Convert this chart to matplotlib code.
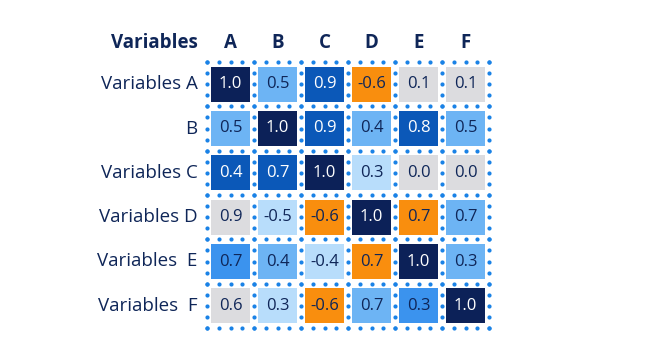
import numpy as np
import matplotlib.pyplot as plt
from matplotlib.colors import ListedColormap
from matplotlib.patches import Rectangle

# --- data ---
col_labels = ["A", "B", "C", "D", "E", "F"]
row_labels = ["Variables A", "B", "Variables C", "Variables D", "Variables  E", "Variables  F"]

values = np.array([
    [1.0, 0.5, 0.9, -0.6, 0.1, 0.1],
    [0.5, 1.0, 0.9, 0.4, 0.8, 0.5],
    [0.4, 0.7, 1.0, 0.3, 0.0, 0.0],
    [0.9, -0.5, -0.6, 1.0, 0.7, 0.7],
    [0.7, 0.4, -0.4, 0.7, 1.0, 0.3],
    [0.6, 0.3, -0.6, 0.7, 0.3, 1.0],
])

# colour class of each cell (0 grey, 1 pale blue, 2 light blue, 3 mid blue,
# 4 dark blue, 5 navy, 6 orange)
levels = np.array([
    [5, 2, 4, 6, 0, 0],
    [2, 5, 4, 2, 4, 2],
    [4, 4, 5, 1, 0, 0],
    [0, 1, 6, 5, 6, 2],
    [3, 2, 1, 6, 5, 2],
    [0, 1, 6, 2, 3, 5],
])

cmap = ListedColormap(["#dcdcdf", "#b8ddfb", "#6db4f4", "#3b93ee",
                       "#0b58b8", "#0c2158", "#f98e0e"])
navy = "#0f2658"
dot_col = "#1a82e6"
light_text = {4, 5}

fig = plt.figure(figsize=(6.45, 3.6), dpi=100)
ax = fig.add_axes([207 / 645, 1 - 328 / 360, 282 / 645, 266 / 360])
n_rows, n_cols = values.shape
ax.set_xlim(-0.5, n_cols - 0.5)
ax.set_ylim(n_rows - 0.5, -0.5)
ax.axis("off")

fam = ["Open Sans", "DejaVu Sans"]
cw, ch = 0.83, 0.79
for i in range(n_rows):
    for j in range(n_cols):
        lv = levels[i, j]
        ax.add_patch(Rectangle((j - cw / 2, i - ch / 2), cw, ch,
                               color=cmap(lv), lw=0, zorder=1))
        ax.text(j, i, f"{values[i, j]:.1f}", ha="center", va="center",
                fontsize=12, family=fam,
                color="white" if lv in light_text else navy, zorder=3)

# dotted grid lines
for r in np.arange(n_rows + 1) - 0.5:
    ax.scatter(np.arange(n_cols * 4 + 1) / 4 - 0.5, np.full(n_cols * 4 + 1, r),
               s=9, color=dot_col, lw=0, zorder=2, clip_on=False)
for c in np.arange(n_cols + 1) - 0.5:
    ax.scatter(np.full(n_rows * 4 + 1, c), np.arange(n_rows * 4 + 1) / 4 - 0.5,
               s=9, color=dot_col, lw=0, zorder=2, clip_on=False)

for j, lab in enumerate(col_labels):
    ax.text(j, -0.92, lab, ha="center", va="center", fontsize=13.5,
            fontweight="bold", family=fam, color=navy)
ax.text(-0.7, -0.92, "Variables", ha="right", va="center", fontsize=13.5,
        fontweight="bold", family=fam, color=navy)
for i, lab in enumerate(row_labels):
    ax.text(-0.7, i, lab, ha="right", va="center", fontsize=13.5,
            family=fam, color=navy)

fig.savefig("out.png", dpi=100)
